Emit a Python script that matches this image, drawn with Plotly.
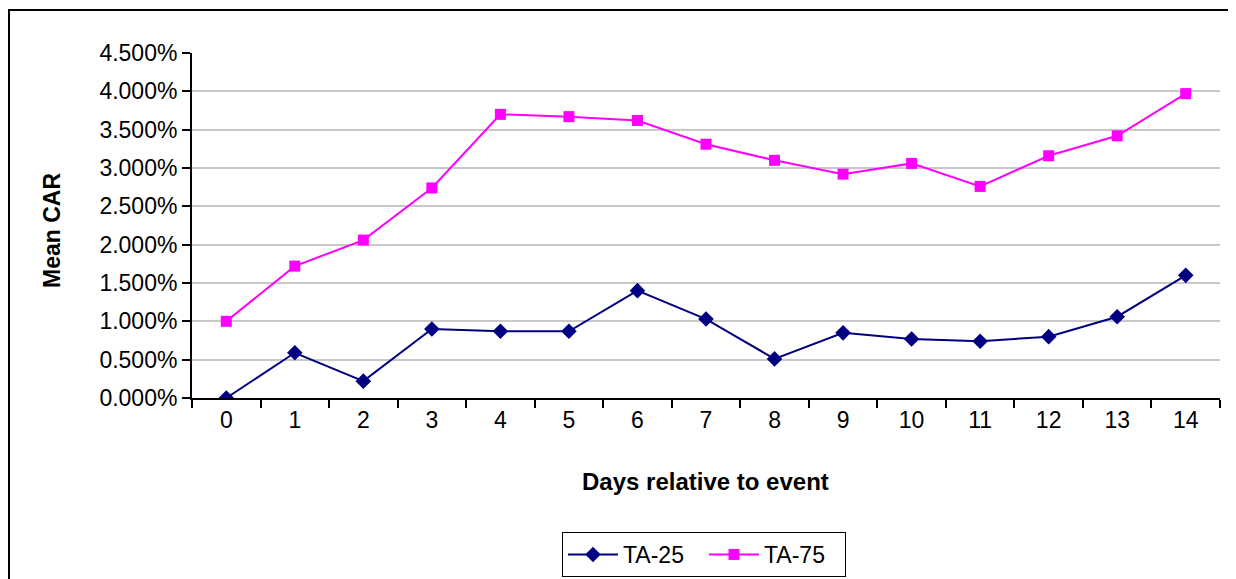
import plotly.graph_objects as go

days = [str(i) for i in range(15)]
ta25 = [0.0000, 0.0059, 0.0022, 0.0090, 0.0087, 0.0087, 0.0140, 0.0103, 0.0051, 0.0085,
        0.0077, 0.0074, 0.0080, 0.0106, 0.0160]
ta75 = [0.0100, 0.0172, 0.0206, 0.0274, 0.0370, 0.0367, 0.0362, 0.0331, 0.0310, 0.0292,
        0.0306, 0.0276, 0.0316, 0.0342, 0.0397]

# page offset of the plot div (browser body margin)
OFF = 8
W, H = 1236 - OFF, 579 - OFF
L, R, T = 192 - OFF, 16, 53 - OFF
B = H - (398 - OFF)
pw = W - L - R
ph = H - T - B

def px_x(p):
    return (p - OFF - L) / pw

def px_y(p):
    return (H - B - (p - OFF)) / ph

FS = 23

fig = go.Figure()
fig.add_trace(go.Scatter(x=days, y=ta25, name="TA-25", mode="lines+markers",
                         line=dict(color="#000080", width=2),
                         marker=dict(symbol="diamond", size=12, color="#000080")))
fig.add_trace(go.Scatter(x=days, y=ta75, name="TA-75", mode="lines+markers",
                         line=dict(color="#FF00FF", width=2),
                         marker=dict(symbol="square", size=11, color="#FF00FF")))

fig.update_layout(
    width=W, height=H,
    margin=dict(l=L, r=R, t=T, b=B, autoexpand=False),
    paper_bgcolor="white", plot_bgcolor="white",
    font=dict(family="Arial, Liberation Sans, sans-serif", size=FS, color="black"),
    showlegend=True,
    legend=dict(orientation="h", x=px_x(704), y=px_y(532), xanchor="center", yanchor="top",
                bordercolor="black", borderwidth=1, bgcolor="white",
                font=dict(size=FS), tracegroupgap=0, itemwidth=50,
                entrywidth=76, entrywidthmode="pixels"),
    xaxis=dict(type="category", range=[-0.5, 14.5], showline=True, linecolor="black", linewidth=2,
               ticks="outside", tickson="boundaries", ticklen=8, tickwidth=1.5, tickcolor="black",
               showgrid=False, zeroline=False, tickfont=dict(size=FS), automargin=False),
    yaxis=dict(range=[0, 0.045], dtick=0.005, tickformat=".3%", showline=True, linecolor="black",
               linewidth=2, ticks="outside", ticklen=8, tickwidth=1.5, tickcolor="black",
               showgrid=True, gridcolor="#c8c8c8", gridwidth=2, zeroline=False,
               tickfont=dict(size=FS), automargin=False),
)

fig.add_annotation(text="<b>Days relative to event</b>", xref="paper", yref="paper",
                   x=px_x(705), y=px_y(481), showarrow=False, font=dict(size=24),
                   xanchor="center", yanchor="middle")
fig.add_annotation(text="<b>Mean CAR</b>", xref="paper", yref="paper",
                   x=px_x(52), y=px_y(231), showarrow=False, font=dict(size=FS),
                   textangle=-90, xanchor="center", yanchor="middle")

fig.add_shape(type="rect", xref="paper", yref="paper",
              x0=px_x(9), x1=px_x(1250), y0=px_y(600), y1=px_y(10),
              line=dict(color="black", width=2), fillcolor="rgba(0,0,0,0)", layer="below")

fig.write_html("out.html")
